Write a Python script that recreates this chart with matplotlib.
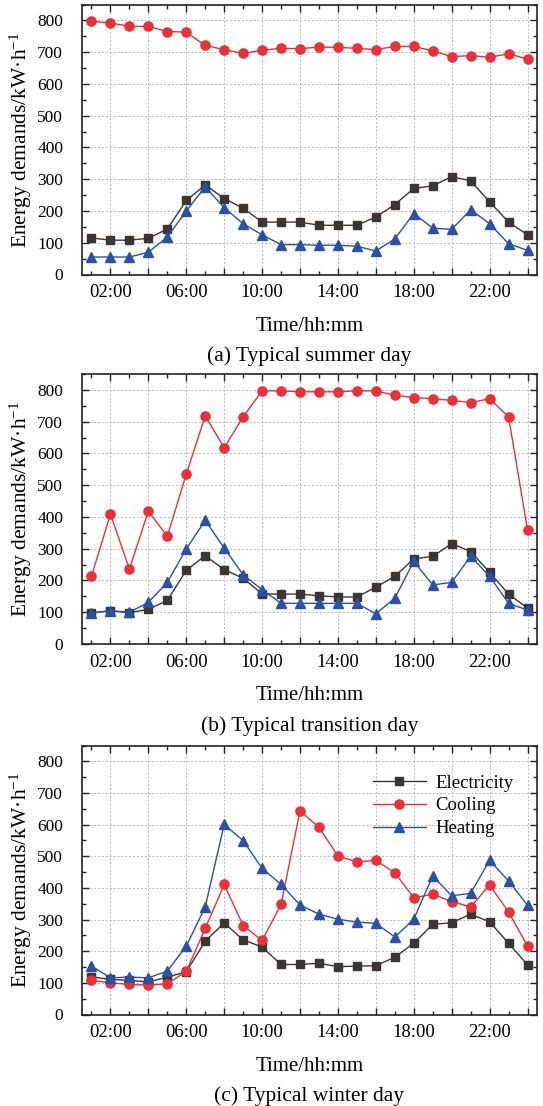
import matplotlib
matplotlib.use("Agg")
import matplotlib.pyplot as plt
from matplotlib.ticker import MultipleLocator, FixedLocator, FixedFormatter

plt.rcParams['font.family'] = ['Liberation Serif', 'DejaVu Serif']
plt.rcParams['mathtext.fontset'] = 'custom'
plt.rcParams['mathtext.rm'] = 'Liberation Serif'
plt.rcParams['mathtext.it'] = 'Liberation Serif:italic'

hours = list(range(1, 25))
xtick_labels = ["02:00", "06:00", "10:00", "14:00", "18:00", "22:00"]

summer_elec = [115, 108, 108, 114, 143, 233, 282, 239, 209, 165, 165, 165,
               155, 155, 155, 181, 220, 271, 279, 308, 295, 229, 165, 125]
summer_cool = [797, 792, 781, 781, 765, 763, 721, 708, 696, 706, 712, 711,
               716, 715, 712, 708, 718, 718, 704, 686, 689, 684, 695, 678]
summer_heat = [55, 55, 55, 70, 118, 200, 276, 210, 160, 125, 94, 94,
               92, 92, 89, 74, 112, 192, 146, 142, 204, 160, 97, 76]

trans_elec = [99, 104, 99, 109, 137, 232, 278, 234, 207, 158, 157, 157,
              152, 148, 148, 179, 213, 268, 276, 316, 291, 226, 157, 113]
trans_cool = [213, 409, 236, 418, 339, 535, 718, 618, 715, 797, 797, 794,
              794, 794, 797, 797, 783, 776, 772, 767, 760, 772, 715, 360]
trans_heat = [97, 105, 100, 131, 194, 299, 389, 302, 218, 171, 128, 128,
              128, 128, 128, 95, 144, 260, 186, 194, 276, 213, 128, 107]

winter_elec = [119, 111, 108, 103, 118, 135, 232, 289, 236, 213, 158, 158,
               162, 151, 153, 154, 181, 225, 285, 290, 317, 293, 225, 157]
winter_cool = [108, 100, 95, 93, 97, 136, 272, 411, 281, 234, 348, 644,
               591, 501, 482, 487, 448, 369, 380, 357, 340, 409, 324, 216]
winter_heat = [153, 116, 118, 116, 137, 216, 340, 601, 549, 462, 411, 346,
               317, 301, 292, 288, 245, 301, 438, 375, 383, 487, 422, 345]

series_names = ["Electricity", "Cooling", "Heating"]
captions = ["(a) Typical summer day", "(b) Typical transition day", "(c) Typical winter day"]
panels = [
    (summer_elec, summer_cool, summer_heat),
    (trans_elec, trans_cool, trans_heat),
    (winter_elec, winter_cool, winter_heat),
]

colors = ["#3b3634", "#e8313b", "#2d4fa6"]
markers = ["s", "o", "^"]
msizes = [5.2, 6.6, 6.8]

W, H = 543, 1106
fig = plt.figure(figsize=(W / 100, H / 100), dpi=100)

# axes boxes in pixels: (left, top, right, bottom)
boxes = [(82, 4.5, 537, 274.5), (82, 374, 537, 644), (82, 745.5, 537, 1014.5)]

for i, (box, data) in enumerate(zip(boxes, panels)):
    l, t, r, b = box
    ax = fig.add_axes([l / W, 1 - b / H, (r - l) / W, (b - t) / H])
    for s, name, c, m, ms in zip(data, series_names, colors, markers, msizes):
        ax.plot(hours, s, color=c, marker=m, markersize=ms, linewidth=1.0,
                markeredgecolor=c, label=name)
    ax.set_xlim(0.5, 24.5)
    ax.set_ylim(0, 850)
    ax.xaxis.set_major_locator(FixedLocator(list(range(2, 25, 2))))
    lbls = []
    for h in range(2, 25, 2):
        lbls.append("%02d:00" % h if (h - 2) % 4 == 0 else "")
    ax.xaxis.set_major_formatter(FixedFormatter(lbls))
    ax.xaxis.set_minor_locator(MultipleLocator(1))
    ax.yaxis.set_major_locator(FixedLocator(list(range(0, 801, 100))))
    ax.yaxis.set_minor_locator(MultipleLocator(50))
    ax.tick_params(which='both', direction='in', top=True, right=True,
                   width=1.0, color='#222222')
    ax.tick_params(axis='x', labelsize=13.5)
    ax.tick_params(axis='y', labelsize=12.5)
    ax.tick_params(which='major', length=5)
    ax.tick_params(which='minor', length=3)
    ax.tick_params(axis='x', which='major', pad=7)
    ax.tick_params(axis='y', which='major', pad=13.5)
    for sp in ax.spines.values():
        sp.set_linewidth(1.2)
        sp.set_color('#222222')
    ax.grid(True, which='major', color='#b8b8b8', linestyle=(0, (2.0, 2.0)),
            linewidth=0.7)
    ax.set_axisbelow(True)
    ax.set_ylabel("Energy demands/kW·h$^{-1}$", fontsize=15.5)
    ax.yaxis.label.set_va('center')
    ax.yaxis.set_label_coords((21 - l) / (r - l), 0.5)
    ax.set_xlabel("Time/hh:mm", fontsize=15)
    ax.xaxis.label.set_va('baseline')
    ax.xaxis.set_label_coords(0.5, -56.5 / (b - t))
    fig.text((l + r) / 2 / W, 1 - (b + 86.5) / H, captions[i], fontsize=15.5,
             ha='center', va='baseline')
    if i == 2:
        ax.legend(loc='upper right', bbox_to_anchor=(0.985, 0.955), frameon=False,
                  fontsize=13.5, handlelength=2.8, labelspacing=0.3,
                  handletextpad=0.5)

fig.savefig("out.png", dpi=100)
